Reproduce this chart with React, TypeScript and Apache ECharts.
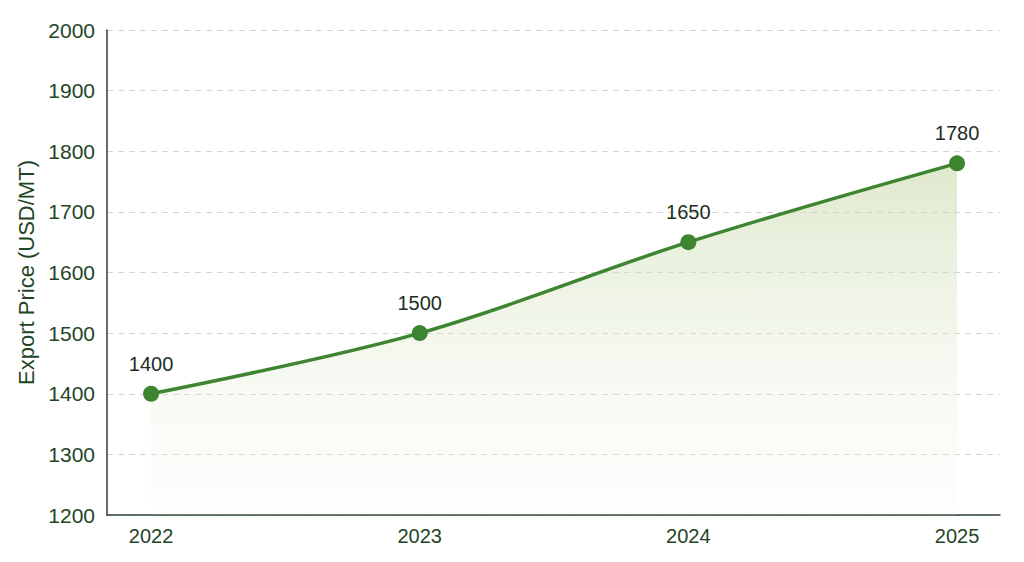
import React, { useEffect, useRef } from "react";
import * as echarts from "echarts";

const years = [2022, 2023, 2024, 2025];
const prices = [1400, 1500, 1650, 1780];
const yTicks = { min: 1200, max: 2000, interval: 100 };

export default function App() {
  const ref = useRef<HTMLDivElement>(null);
  useEffect(() => {
    if (!ref.current) return;
    const chart = echarts.init(ref.current, null, { renderer: "svg" });
    const font = "Liberation Sans, Arial, sans-serif";
    const textColor = "#1f4526";
    chart.setOption({
      animation: false,
      backgroundColor: "#ffffff",
      grid: { left: 107, right: 24, top: 30, bottom: 47 },
      xAxis: {
        type: "value",
        min: 2021.836,
        max: 2025.16,
        axisLine: { show: true, lineStyle: { color: "#2b4430", width: 1.5 } },
        axisTick: { show: false },
        splitLine: { show: false },
        axisLabel: {
          customValues: years,
          formatter: (v: number) => String(Math.round(v)),
          color: textColor,
          fontSize: 20,
          fontFamily: font,
          margin: 11,
        },
      },
      yAxis: {
        type: "value",
        min: yTicks.min,
        max: yTicks.max,
        interval: yTicks.interval,
        name: "Export Price (USD/MT)",
        nameLocation: "middle",
        nameGap: 68,
        nameTextStyle: { color: textColor, fontSize: 22, fontFamily: font },
        axisLine: { show: true, lineStyle: { color: "#2b4430", width: 1.5 } },
        axisTick: { show: false },
        axisLabel: {
          color: textColor,
          fontSize: 21,
          fontFamily: font,
          margin: 12,
          formatter: (v: number) => String(v),
        },
        splitLine: { show: true, lineStyle: { color: "#d4d4d4", type: [6, 5], width: 1 } },
      },
      series: [
        {
          type: "line",
          data: years.map((y, i) => [y, prices[i]]),
          smooth: 0.35,
          symbol: "circle",
          symbolSize: 16,
          lineStyle: { color: "#3d8530", width: 3.5 },
          itemStyle: { color: "#3d8530" },
          label: {
            show: true,
            position: "top",
            distance: 12,
            color: "#1d2e1f",
            fontSize: 20,
            fontFamily: font,
          },
          areaStyle: {
            origin: "start",
            color: new echarts.graphic.LinearGradient(0, 0, 0, 1, [
              { offset: 0, color: "rgba(198,216,166,0.8)" },
              { offset: 1, color: "rgba(240,245,232,0.15)" },
            ]),
          },
        },
      ],
    });
    return () => chart.dispose();
  }, []);
  return <div ref={ref} style={{ width: 1024, height: 562, position: "absolute", left: 0, top: 0 }} />;
}
